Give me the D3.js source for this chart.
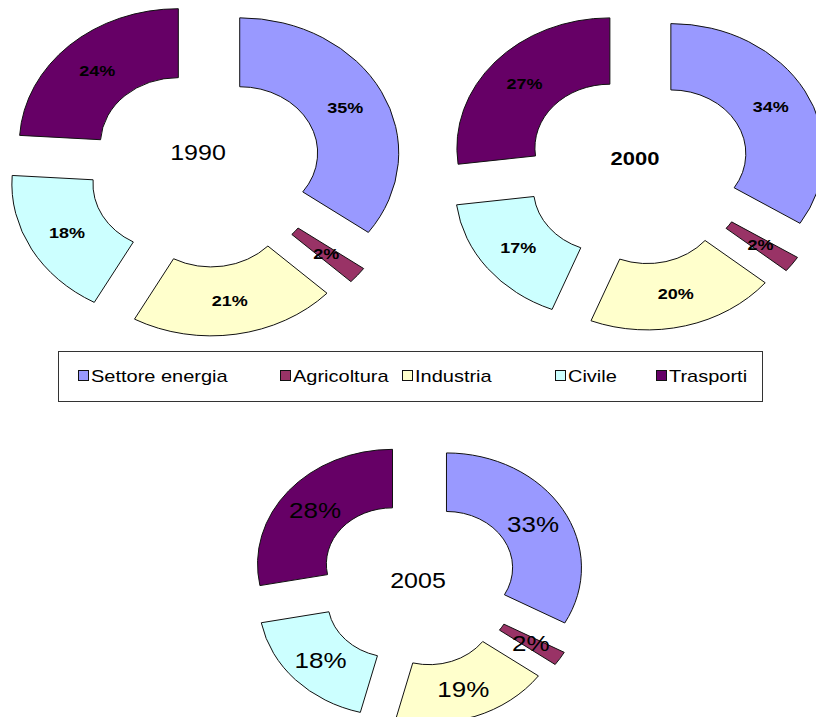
<!DOCTYPE html>
<html>
<head>
<meta charset="utf-8">
<script src="https://cdn.jsdelivr.net/npm/d3@7"></script>
<style>
  body { margin: 0; background: #fff; }
  svg { display: block; font-family: "Liberation Sans", Arial, sans-serif; }
</style>
</head>
<body>
<svg id="chart" width="816" height="717"></svg>
<script>
// data
var categories = ['Settore energia', 'Agricoltura', 'Industria', 'Civile', 'Trasporti'];
var colors = ['#9999ff', '#993366', '#ffffcc', '#ccffff', '#660066'];
var years = ['1990', '2000', '2005'];
var values1990 = [35, 2, 21, 18, 24];
var values2000 = [34, 2, 20, 17, 27];
var values2005 = [33, 2, 19, 18, 28];

// layout of each doughnut (picture is squashed vertically by k)
var k = 0.85;
var hole = 0.49;
var explode = 0.245;
var panels = [
    { year: years[0], values: values1990, cx: 205, cy: 168, R: 159, lab: 18, labW: 'bold', yr: 25, yrW: 'normal', yrDx: -7, yrDy: -16 },
    { year: years[1], values: values2000, cx: 638, cy: 169, R: 153, lab: 18, labW: 'bold', yr: 22, yrW: 'bold', yrDx: -3, yrDy: -11 },
    { year: years[2], values: values2005, cx: 418, cy: 582, R: 135, lab: 26, labW: 'normal', yr: 25, yrW: 'normal', yrDx: 0, yrDy: -2 }
];

var svg = d3.select('#chart');

var pie = d3.pie().sort(null).value(function(d) { return d; });

panels.forEach(function(p) {
    var arc = d3.arc().innerRadius(p.R * hole).outerRadius(p.R);
    var off = p.R * explode;
    var slices = pie(p.values);

    var g = svg.append('g')
        .attr('transform', 'translate(' + p.cx + ',' + p.cy + ')');
    var flat = g.append('g').attr('transform', 'scale(1,' + k + ')');

    function shift(d) {
        var m = (d.startAngle + d.endAngle) / 2;
        return [Math.sin(m) * off, -Math.cos(m) * off];
    }

    flat.selectAll('path')
        .data(slices)
        .enter()
        .append('path')
        .attr('d', arc)
        .attr('transform', function(d) {
            var s = shift(d);
            return 'translate(' + s[0] + ',' + s[1] + ')';
        })
        .attr('fill', function(d, i) { return colors[i]; })
        .attr('stroke', '#111')
        .attr('stroke-width', 1)
        .attr('vector-effect', 'non-scaling-stroke');

    // percent labels on top of all slices
    g.selectAll('.lab')
        .data(slices)
        .enter()
        .append('text')
        .attr('class', 'lab')
        .attr('transform', function(d) {
            var c = arc.centroid(d), s = shift(d);
            return 'translate(' + (c[0] + s[0]) + ',' + ((c[1] + s[1]) * k) + ') scale(1,' + k + ')';
        })
        .attr('text-anchor', 'middle')
        .attr('dy', '0.36em')
        .attr('font-size', p.lab)
        .attr('font-weight', p.labW)
        .attr('fill', '#000')
        .text(function(d) { return d.data + '%'; });

    g.append('text')
        .attr('transform', 'translate(' + p.yrDx + ',' + p.yrDy + ') scale(1,' + k + ')')
        .attr('text-anchor', 'middle')
        .attr('dy', '0.36em')
        .attr('font-size', p.yr)
        .attr('font-weight', p.yrW)
        .attr('fill', '#000')
        .text(p.year);
});

// legend
var legendX = [78, 280, 402, 555, 656];
var legend = svg.append('g');
legend.append('rect')
    .attr('x', 58.5).attr('y', 351.5)
    .attr('width', 704).attr('height', 50)
    .attr('fill', '#fff')
    .attr('stroke', '#333')
    .attr('stroke-width', 1);

var items = legend.selectAll('.item')
    .data(categories)
    .enter()
    .append('g')
    .attr('class', 'item')
    .attr('transform', function(d, i) { return 'translate(' + legendX[i] + ',376)'; });
items.append('rect')
    .attr('x', 0.5).attr('y', -5.5)
    .attr('width', 10).attr('height', 10)
    .attr('fill', function(d, i) { return colors[i]; })
    .attr('stroke', '#111')
    .attr('stroke-width', 1);
items.append('text')
    .attr('transform', 'translate(13,0) scale(1,' + k + ')')
    .attr('dy', '0.36em')
    .attr('font-size', 20)
    .attr('fill', '#000')
    .text(function(d) { return d; });
</script>
</body>
</html>
